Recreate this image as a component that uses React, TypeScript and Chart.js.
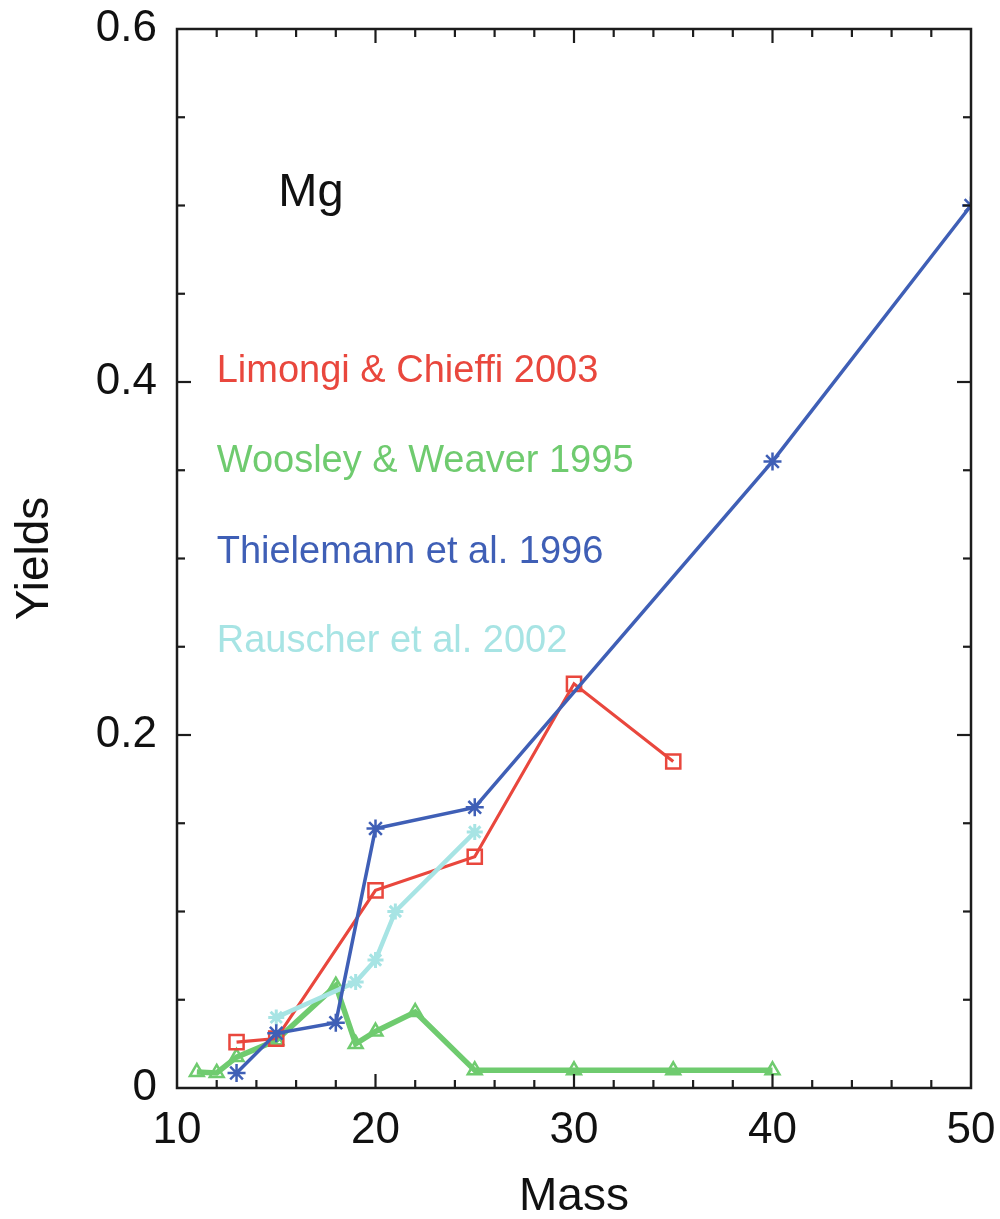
import { useEffect, useRef } from "react";
import { Chart, registerables } from "chart.js";

Chart.register(...registerables);

// Mg yields vs. progenitor mass for four sets of supernova models
const limongiMass = [13, 15, 20, 25, 30, 35];
const limongiYield = [0.026, 0.028, 0.112, 0.131, 0.229, 0.185];

const woosleyMass = [11, 12, 13, 15, 18, 19, 20, 22, 25, 30, 35, 40];
const woosleyYield = [0.009, 0.0085, 0.0175, 0.027, 0.058, 0.025, 0.032, 0.043, 0.01, 0.01, 0.01, 0.01];

const thielemannMass = [13, 15, 18, 20, 25, 40, 50];
const thielemannYield = [0.0085, 0.031, 0.037, 0.147, 0.159, 0.355, 0.5];

const rauscherMass = [15, 19, 20, 21, 25];
const rauscherYield = [0.04, 0.06, 0.0725, 0.1, 0.145];

const seriesNames = [
  "Limongi & Chieffi 2003",
  "Woosley & Weaver 1995",
  "Thielemann et al. 1996",
  "Rauscher et al. 2002",
];
const seriesColors = ["#e9473d", "#6fcb6f", "#3f5fb6", "#a7e4e4"];

const elementLabel = "Mg";
const xTitle = "Mass";
const yTitle = "Yields";

const xMin = 10;
const xMax = 50;
const yMin = 0;
const yMax = 0.6;
const xMinorStep = 2;
const xMajorStep = 10;
const yMinorStep = 0.05;
const yMajorStep = 0.2;

const FONT = "'Liberation Sans', Arial, Helvetica, sans-serif";

const pts = (xs: number[], ys: number[]) => xs.map((x, i) => ({ x, y: ys[i] }));

// Boxed frame with inward ticks on all four sides, plus the text annotations
const framePlugin = {
  id: "frameAndNotes",
  afterDraw(chart: any) {
    const { ctx, chartArea, scales } = chart;
    const { left, right, top, bottom } = chartArea;
    const xs = scales.x;
    const ys = scales.y;
    ctx.save();
    ctx.strokeStyle = "#1c1c1c";
    ctx.lineWidth = 2.5;
    ctx.strokeRect(left, top, right - left, bottom - top);

    ctx.lineWidth = 2.2;
    const seg = (x1: number, y1: number, x2: number, y2: number) => {
      ctx.beginPath();
      ctx.moveTo(x1, y1);
      ctx.lineTo(x2, y2);
      ctx.stroke();
    };
    const nx = Math.round((xMax - xMin) / xMinorStep);
    for (let i = 1; i < nx; i++) {
      const v = xMin + i * xMinorStep;
      const px = xs.getPixelForValue(v);
      const len = Math.abs(v / xMajorStep - Math.round(v / xMajorStep)) < 1e-6 ? 14 : 8;
      seg(px, bottom, px, bottom - len);
      seg(px, top, px, top + len);
    }
    const ny = Math.round((yMax - yMin) / yMinorStep);
    for (let i = 1; i < ny; i++) {
      const v = yMin + i * yMinorStep;
      const py = ys.getPixelForValue(v);
      const len = Math.abs(v / yMajorStep - Math.round(v / yMajorStep)) < 1e-6 ? 14 : 8;
      seg(left, py, left + len, py);
      seg(right, py, right - len, py);
    }

    ctx.textAlign = "left";
    ctx.textBaseline = "alphabetic";
    ctx.fillStyle = "#111";
    ctx.font = `47px ${FONT}`;
    ctx.fillText(elementLabel, xs.getPixelForValue(15.1), ys.getPixelForValue(0.5));

    ctx.font = `38px ${FONT}`;
    const legendY = [0.4, 0.349, 0.2975, 0.247];
    seriesNames.forEach((name, i) => {
      ctx.fillStyle = seriesColors[i];
      ctx.fillText(name, xs.getPixelForValue(12), ys.getPixelForValue(legendY[i]));
    });
    ctx.restore();
  },
};

export default function App() {
  const canvasRef = useRef<HTMLCanvasElement>(null);

  useEffect(() => {
    if (!canvasRef.current) return;
    const chart = new Chart(canvasRef.current, {
      type: "line",
      data: {
        datasets: [
          {
            label: seriesNames[2],
            data: pts(thielemannMass, thielemannYield),
            borderColor: seriesColors[2],
            backgroundColor: "transparent",
            borderWidth: 3.5,
            pointStyle: "star",
            pointRadius: 9,
            pointBorderWidth: 2.5,
            pointBorderColor: seriesColors[2],
            order: 1,
          },
          {
            label: seriesNames[3],
            data: pts(rauscherMass, rauscherYield),
            borderColor: seriesColors[3],
            backgroundColor: "transparent",
            borderWidth: 4.5,
            pointStyle: "star",
            pointRadius: 8,
            pointBorderWidth: 3,
            pointBorderColor: seriesColors[3],
            order: 2,
          },
          {
            label: seriesNames[0],
            data: pts(limongiMass, limongiYield),
            borderColor: seriesColors[0],
            backgroundColor: "transparent",
            borderWidth: 3.2,
            pointStyle: "rect",
            pointRadius: 10,
            pointBorderWidth: 2.5,
            pointBorderColor: seriesColors[0],
            pointBackgroundColor: "transparent",
            order: 3,
          },
          {
            label: seriesNames[1],
            data: pts(woosleyMass, woosleyYield),
            borderColor: seriesColors[1],
            backgroundColor: "transparent",
            borderWidth: 5.5,
            pointStyle: "triangle",
            pointRadius: 8,
            pointBorderWidth: 2.5,
            pointBorderColor: seriesColors[1],
            pointBackgroundColor: "transparent",
            order: 4,
          },
        ],
      },
      options: {
        animation: false,
        responsive: false,
        maintainAspectRatio: false,
        layout: { padding: { top: 29, right: 29, left: 0, bottom: 0 } },
        plugins: {
          legend: { display: false },
          tooltip: { enabled: false },
        },
        scales: {
          x: {
            type: "linear",
            min: xMin,
            max: xMax,
            grid: { display: false, drawTicks: false },
            border: { display: false },
            ticks: {
              stepSize: xMajorStep,
              color: "#111",
              padding: 16,
              font: { family: FONT, size: 44 },
              maxRotation: 0,
            },
            title: {
              display: true,
              text: xTitle,
              color: "#111",
              font: { family: FONT, size: 46 },
              padding: { top: 0, bottom: -6 },
            },
            afterFit: (s: any) => {
              s.height = 1219 - 1088;
              s.paddingLeft = 0;
              s.paddingRight = 0;
              s.paddingTop = 0;
              s.paddingBottom = 0;
            },
          },
          y: {
            type: "linear",
            min: yMin,
            max: yMax,
            grid: { display: false, drawTicks: false },
            border: { display: false },
            ticks: {
              stepSize: yMajorStep,
              color: "#111",
              padding: 20,
              font: { family: FONT, size: 44 },
            },
            title: {
              display: true,
              text: yTitle,
              color: "#111",
              font: { family: FONT, size: 46 },
              padding: { top: 8, bottom: 0 },
            },
            afterFit: (s: any) => {
              s.width = 177;
              s.paddingLeft = 0;
              s.paddingRight = 0;
              s.paddingTop = 0;
              s.paddingBottom = 0;
            },
          },
        },
      },
      plugins: [framePlugin],
    });
    return () => chart.destroy();
  }, []);

  return (
    <div style={{ position: "absolute", left: 0, top: 0, width: 1000, height: 1219, background: "#fff" }}>
      <canvas ref={canvasRef} width={1000} height={1219} style={{ width: 1000, height: 1219 }} />
    </div>
  );
}
